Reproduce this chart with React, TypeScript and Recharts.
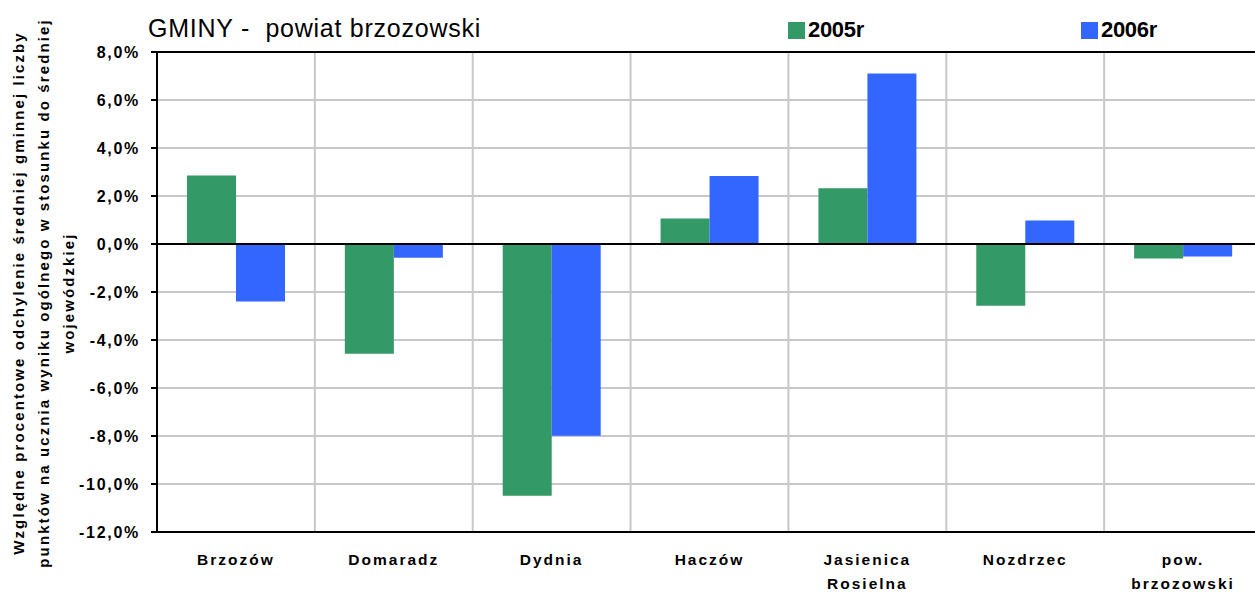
import React from 'react';
import { BarChart, Bar, XAxis, YAxis, CartesianGrid, ReferenceLine, Legend } from 'recharts';

const categories = ['Brzozów', 'Domaradz', 'Dydnia', 'Haczów', 'Jasienica\nRosielna', 'Nozdrzec', 'pow.\nbrzozowski'];
const values2005 = [2.85, -4.57, -10.49, 1.06, 2.32, -2.57, -0.6];
const values2006 = [-2.4, -0.57, -7.99, 2.83, 7.1, 0.98, -0.52];
const yTicks = [-12, -10, -8, -6, -4, -2, 0, 2, 4, 6, 8];
const seriesNames = ['2005r', '2006r'];
const titleText = 'GMINY -  powiat brzozowski';
const yLabelLines = [
  'Względne procentowe odchylenie średniej gminnej liczby',
  'punktów na ucznia wyniku ogólnego w stosunku do średniej',
  'wojewódzkiej',
];

const data = categories.map((name, i) => ({ name, a: values2005[i], b: values2006[i] }));

const W = 1255;
const CW = 1262;
const H = 592;
const FONT = 'Liberation Sans, Arial, Helvetica, sans-serif';
const GREEN = '#339966';
const BLUE = '#3366FF';

const XTick = (props: any) => {
  const { x, y, payload } = props;
  const lines = String(payload.value).split('\n');
  return (
    <text x={x} y={y} textAnchor="middle" fontFamily={FONT} fontWeight="bold" fontSize={15.5} letterSpacing={2} fill="#000">
      {lines.map((l, i) => (
        <tspan key={i} x={x} dy={i === 0 ? 25 : 24}>{l}</tspan>
      ))}
    </text>
  );
};

const YTick = (props: any) => {
  const { x, y, payload } = props;
  const v = Number(payload.value);
  const s = v.toFixed(1).replace('.', ',') + '%';
  return (
    <text x={x - 9} y={y} dy={6} textAnchor="end" fontFamily={FONT} fontWeight="bold" fontSize={16} letterSpacing={1.7} fill="#000">
      {s}
    </text>
  );
};

const YLabel = () => {
  const cy = 293;
  return (
    <text transform={`translate(0, ${cy}) rotate(-90)`} textAnchor="middle" fontFamily={FONT} fontWeight="bold" fontSize={15} letterSpacing={2.1} fill="#000">
      {yLabelLines.map((l, i) => (
        <tspan key={i} x={0} y={24 + i * 25}>{l}</tspan>
      ))}
    </text>
  );
};

const LegendContent = (props: any) => {
  const { payload } = props;
  const lefts = [788, 1081];
  return (
    <div style={{ position: 'relative', width: W, height: 52 }}>
      <div style={{ position: 'absolute', left: 148, top: 13, fontFamily: FONT, fontSize: 25, color: '#000', whiteSpace: 'pre', lineHeight: '30px', letterSpacing: 0.75 }}>
        {titleText}
      </div>
      {(payload || []).map((p: any, i: number) => (
        <div key={i} style={{ position: 'absolute', left: lefts[i], top: 16, display: 'flex', alignItems: 'center', height: 28 }}>
          <div style={{ width: 17, height: 17, background: p.color }} />
          <span style={{ marginLeft: 3, fontFamily: FONT, fontWeight: 'bold', fontSize: 22, letterSpacing: -0.3, color: '#000' }}>{p.value}</span>
        </div>
      ))}
    </div>
  );
};

export default function App() {
  return (
    <div style={{ position: 'absolute', left: 0, top: 0, width: W, height: H, background: '#fff', overflow: 'hidden' }}>
      <BarChart
        width={CW}
        height={H}
        data={data}
        margin={{ top: 0, right: 0, bottom: 30, left: 0 }}
        barCategoryGap="19%"
        barGap={0}
      >
        <CartesianGrid
          stroke="#c8c8c8"
          strokeWidth={2}
          verticalCoordinatesGenerator={({ offset }: any) =>
            categories.map((_, i) => offset.left + (offset.width * i) / categories.length).slice(1)
          }
        />
        <XAxis
          dataKey="name"
          interval={0}
          height={30}
          tickLine={false}
          axisLine={{ stroke: '#000', strokeWidth: 2 }}
          tick={<XTick />}
        />
        <YAxis
          width={157}
          domain={[-12, 8]}
          ticks={yTicks}
          interval={0}
          allowDataOverflow
          tickSize={6}
          tickLine={{ stroke: '#000', strokeWidth: 2 }}
          axisLine={{ stroke: '#000', strokeWidth: 2 }}
          tick={<YTick />}
          label={<YLabel />}
        />
        <Legend verticalAlign="top" height={52} wrapperStyle={{ position: 'absolute', left: 0, top: 0, width: W, height: 52 }} content={<LegendContent />} />
        <ReferenceLine y={8} stroke="#000" strokeWidth={2} />
        <Bar dataKey="a" name={seriesNames[0]} fill={GREEN} isAnimationActive={false} />
        <Bar dataKey="b" name={seriesNames[1]} fill={BLUE} isAnimationActive={false} />
        <ReferenceLine y={0} stroke="#000" strokeWidth={2} />
      </BarChart>
    </div>
  );
}
